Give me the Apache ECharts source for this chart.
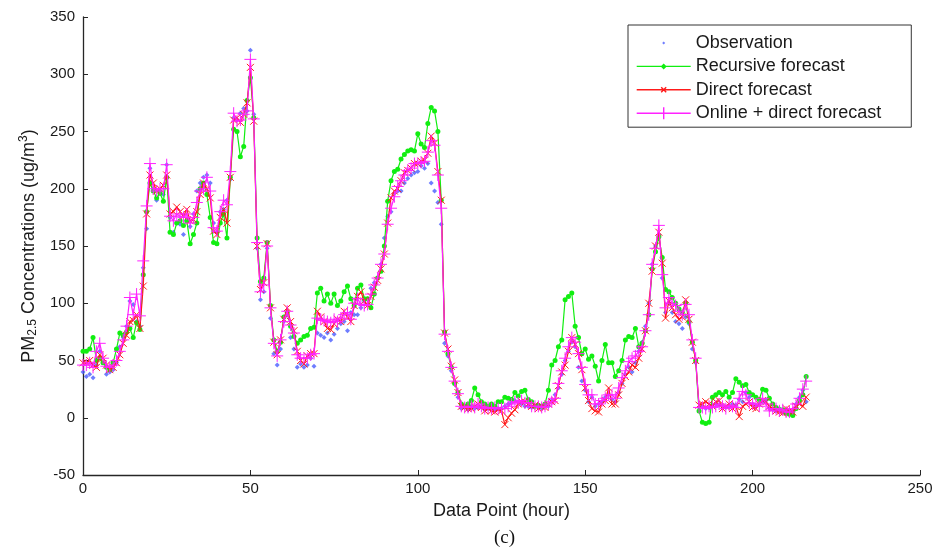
<!DOCTYPE html>
<html>
<head>
<meta charset="utf-8">
<script src="https://cdn.jsdelivr.net/npm/echarts@6/dist/echarts.min.js"></script>
<style>html,body{margin:0;padding:0;background:#fff}#c{width:949px;height:554px}</style>
</head>
<body>
<div id="c"></div>
<script>
var seriesNames = ['Observation', 'Recursive forecast', 'Direct forecast', 'Online + direct forecast'];
var xTicks = [0, 50, 100, 150, 200, 250];
var yTicks = [-50, 0, 50, 100, 150, 200, 250, 300, 350];

var observation = [
40,36,38,35,46,58,48,38,40,42,
48,62,70,80,102,99,84,80,131,165,
218,200,190,198,195,221,175,162,170,169,
160,172,167,178,198,205,210,212,205,170,
162,180,182,190,208,262,260,266,270,268,
321,265,148,103,110,148,87,56,46,60,
84,90,70,60,44,47,44,46,52,45,
74,72,70,74,68,73,78,82,84,76,
92,90,90,96,102,104,113,118,122,134,
157,176,180,196,198,198,205,209,212,214,
215,220,218,222,205,198,188,169,65,54,
41,30,18,8,9,7,10,8,9,10,
7,8,9,7,8,8,10,12,13,15,
14,12,10,10,9,10,9,8,11,10,
15,20,26,38,50,58,66,62,44,32,
24,14,18,10,12,14,18,20,16,14,
22,30,38,44,40,48,58,66,80,100,
134,150,160,122,92,100,92,84,82,78,
88,82,60,48,9,10,8,9,10,12,
11,10,9,10,12,11,16,14,22,18,
12,10,12,14,15,8,7,6,8,5,
6,4,6,12,18,24,14
];

var recursiveForecast = [
58,58,60,70,50,52,48,44,42,48,
60,74,72,75,78,70,83,77,125,180,
205,198,192,196,189,210,162,160,170,172,
168,172,152,160,170,200,205,195,175,153,
152,170,178,157,210,252,250,228,237,277,
297,262,157,119,122,153,98,68,58,66,
88,92,80,71,65,68,71,72,78,79,
109,113,102,108,100,108,98,102,110,115,
104,98,113,116,104,104,96,108,122,128,
150,189,207,215,217,226,230,233,234,233,
248,239,236,257,271,268,250,190,75,56,
44,30,22,12,10,12,15,26,20,14,
12,10,12,10,14,14,18,17,16,22,
19,23,24,16,14,10,11,10,12,24,
46,50,62,68,103,106,109,80,70,56,
60,51,54,45,32,50,64,48,48,36,
41,50,68,71,70,78,62,65,76,90,
130,145,158,140,112,110,105,100,95,92,
100,84,66,50,6,-4,-5,-4,18,20,
22,20,23,18,22,34,31,28,29,22,
20,18,16,25,24,17,12,9,7,7,
4,3,2,8,15,20,36
];

var directForecast = [
48,48,50,46,44,55,52,46,42,44,
48,55,65,72,84,85,90,78,115,178,
212,205,198,200,203,212,178,180,184,180,
176,182,172,173,180,195,205,200,192,163,
160,175,182,170,210,260,262,258,265,275,
306,259,150,112,118,152,96,66,55,68,
86,96,84,76,58,50,47,54,56,56,
93,88,84,78,77,82,86,84,93,88,
84,98,106,110,102,98,106,114,120,130,
143,170,192,198,200,207,214,216,218,222,
222,224,225,231,246,240,215,190,74,60,
45,33,22,10,9,8,8,10,12,9,
6,8,6,5,7,6,-6,0,4,7,
12,14,14,12,10,11,8,10,9,12,
14,15,28,40,46,58,70,64,56,42,
26,15,8,6,5,12,15,26,12,12,
20,30,36,40,46,44,52,60,76,100,
128,150,162,135,87,102,96,90,86,88,
103,86,66,50,11,12,14,12,10,14,
15,8,10,12,8,10,1,10,12,14,
9,8,12,15,14,10,8,6,5,4,
8,6,5,10,12,10,18
];

var onlineDirectForecast = [
46,46,48,44,58,65,52,45,44,46,
50,58,68,80,105,90,108,89,137,185,
222,200,198,200,200,221,176,172,178,176,
175,178,170,175,188,198,200,210,198,166,
163,180,190,186,215,266,259,260,265,268,
313,261,153,110,116,150,96,65,54,68,
84,93,81,74,55,52,52,52,55,56,
87,86,85,84,83,86,84,87,90,92,
86,100,104,99,98,99,108,116,122,134,
143,169,183,193,202,207,212,216,218,222,
222,223,224,232,242,238,212,183,73,58,
44,32,21,10,9,9,10,9,12,10,
8,9,8,9,8,8,8,10,12,14,
13,15,13,13,10,10,10,9,10,12,
14,17,30,41,52,62,70,66,56,44,
29,20,20,12,12,15,17,20,20,17,
26,35,41,49,52,54,58,62,76,90,
134,148,168,125,96,105,100,98,93,90,
99,90,68,52,9,9,8,10,9,10,
12,10,8,11,10,9,17,23,20,13,
12,12,10,17,12,6,8,8,6,7,
5,5,8,12,17,25,32
];

function pairs(arr) { return arr.map(function (v, i) { return [i, v]; }); }

var FONT = '"Liberation Sans", Arial, sans-serif';
var AX = '#262626';
var TXT = '#1a1a1a';
var cObs = '#4a5cff', cRec = '#11ee11', cDir = '#ff1a1a', cOnl = '#ff22ff';
var crossPath = 'path://M0,0L10,10M10,0L0,10';
var plusPath = 'path://M5,0L5,10M0,5L10,5';
// legend icons drawn in a 54x12 box (line sample + marker)
var iconObs = 'path://M0,0M54,12M25.5,6L27,4.5L28.5,6L27,7.5Z';
var iconRec = 'path://M0,0M54,12M0,6L54,6M25,6L27,4L29,6L27,8Z';
var iconDir = 'path://M0,0M54,12M0,6L54,6M24.5,3.5L29.5,8.5M29.5,3.5L24.5,8.5';
var iconOnl = 'path://M0,0M54,12M0,6L54,6M27,0L27,12';

var chart = echarts.init(document.getElementById('c'), null, { renderer: 'canvas' });
chart.setOption({
  animation: false,
  backgroundColor: '#ffffff',
  title: {
    text: '(c)',
    left: 489, top: 524,
    textStyle: { fontFamily: '"Liberation Serif", "Times New Roman", serif', fontSize: 19, fontWeight: 'normal', color: '#111' }
  },
  grid: { left: 83, right: 29, top: 17, bottom: 79, containLabel: false },
  legend: {
    orient: 'vertical',
    left: 628, top: 25,
    padding: [9, 30, 5, 8],
    itemWidth: 54, itemHeight: 12, itemGap: 5.4,
    borderColor: '#333', borderWidth: 1, backgroundColor: '#fff',
    itemStyle: { borderWidth: 1.4 },
    textStyle: { fontFamily: FONT, fontSize: 18, color: TXT },
    data: [
      { name: seriesNames[0], icon: iconObs, itemStyle: { color: cObs, borderWidth: 0 } },
      { name: seriesNames[1], icon: iconRec, itemStyle: { color: cRec, borderColor: cRec, borderWidth: 1.4 } },
      { name: seriesNames[2], icon: iconDir, itemStyle: { color: cDir, borderColor: cDir, borderWidth: 1.4 } },
      { name: seriesNames[3], icon: iconOnl, itemStyle: { color: cOnl, borderColor: cOnl, borderWidth: 1.4 } }
    ]
  },
  xAxis: {
    type: 'value', min: xTicks[0], max: xTicks[xTicks.length - 1], interval: 50,
    name: 'Data Point (hour)', nameLocation: 'middle', nameGap: 27,
    nameTextStyle: { fontFamily: FONT, fontSize: 18, color: TXT },
    axisLine: { show: true, onZero: false, lineStyle: { color: AX, width: 1.3 } },
    axisTick: { show: true, inside: true, length: 5, lineStyle: { color: AX } },
    axisLabel: { fontFamily: FONT, fontSize: 15, color: TXT, margin: 6 },
    splitLine: { show: false }
  },
  yAxis: {
    type: 'value', min: yTicks[0], max: yTicks[yTicks.length - 1], interval: 50,
    name: 'PM{sub|2.5} Concentrations (ug/m{sup|3})', nameLocation: 'middle', nameGap: 43,
    nameTextStyle: {
      fontFamily: FONT, fontSize: 18, color: TXT,
      rich: {
        sub: { fontFamily: FONT, fontSize: 12, color: TXT, verticalAlign: 'bottom', padding: [9, 0, 0, 0] },
        sup: { fontFamily: FONT, fontSize: 12, color: TXT, verticalAlign: 'top', padding: [0, 0, 9, 0] }
      }
    },
    axisLine: { show: true, onZero: false, lineStyle: { color: AX, width: 1.3 } },
    axisTick: { show: true, inside: true, length: 5, lineStyle: { color: AX } },
    axisLabel: { fontFamily: FONT, fontSize: 15, color: TXT, margin: 8 },
    splitLine: { show: false }
  },
  series: [
    {
      name: seriesNames[0], type: 'scatter', data: pairs(observation),
      symbol: 'diamond', symbolSize: 5,
      itemStyle: { color: cObs }, z: 2
    },
    {
      name: seriesNames[1], type: 'line', data: pairs(recursiveForecast),
      symbol: 'circle', symbolSize: 5, showSymbol: true,
      lineStyle: { color: cRec, width: 1.2 },
      itemStyle: { color: cRec }, z: 3
    },
    {
      name: seriesNames[2], type: 'line', data: pairs(directForecast),
      symbol: crossPath, symbolSize: 7, showSymbol: true,
      lineStyle: { color: cDir, width: 1.2 },
      itemStyle: { color: cDir, borderColor: cDir, borderWidth: 1 }, z: 4
    },
    {
      name: seriesNames[3], type: 'line', data: pairs(onlineDirectForecast),
      symbol: plusPath, symbolSize: 12, showSymbol: true,
      lineStyle: { color: cOnl, width: 1.2 },
      itemStyle: { color: cOnl, borderColor: cOnl, borderWidth: 1 }, z: 5
    }
  ]
});
</script>
</body>
</html>
